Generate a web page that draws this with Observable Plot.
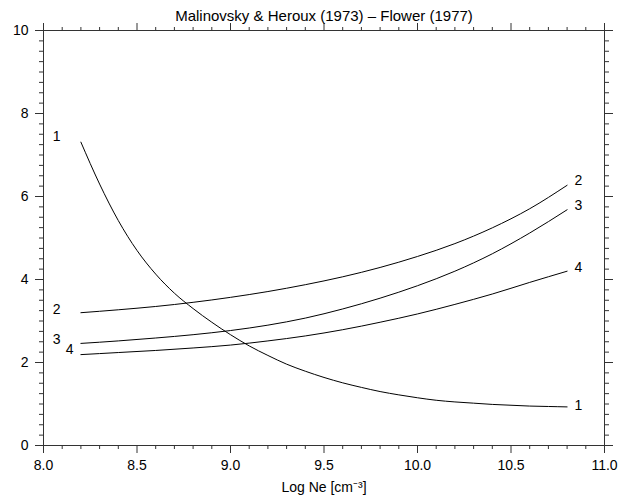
<!DOCTYPE html>
<html>
<head>
<meta charset="utf-8">
<script src="https://cdn.jsdelivr.net/npm/d3@7"></script>
<script src="https://cdn.jsdelivr.net/npm/@observablehq/plot@0.6"></script>
<style>
  html, body { margin: 0; padding: 0; background: #fff; }
</style>
</head>
<body>
<div id="chart"></div>
<script>
const title = "Malinovsky & Heroux (1973) \u2013 Flower (1977)";
const xLabel = "Log Ne [cm\u207B\u00B3]";

// Curve 1 (sampled every 0.1)
const x1 = [8.2, 8.3, 8.4, 8.5, 8.6, 8.7, 8.8, 8.9, 9.0, 9.1, 9.2, 9.3, 9.4, 9.5, 9.6, 9.7, 9.8, 9.9, 10.0, 10.1, 10.2, 10.3, 10.4, 10.5, 10.6, 10.7, 10.8];
const curve1 = [7.31, 6.30, 5.42, 4.70, 4.13, 3.67, 3.30, 2.97, 2.67, 2.40, 2.17, 1.96, 1.79, 1.64, 1.51, 1.40, 1.30, 1.22, 1.15, 1.09, 1.05, 1.02, 0.99, 0.97, 0.95, 0.94, 0.93];

// Curves 2-4 (sampled every 0.2)
const x234 = [8.2, 8.4, 8.6, 8.8, 9.0, 9.2, 9.4, 9.6, 9.8, 10.0, 10.2, 10.4, 10.6, 10.8];
const curve2 = [3.20, 3.27, 3.35, 3.45, 3.57, 3.71, 3.875, 4.065, 4.29, 4.555, 4.865, 5.245, 5.705, 6.27];
const curve3 = [2.46, 2.52, 2.59, 2.67, 2.77, 2.90, 3.07, 3.29, 3.55, 3.85, 4.20, 4.62, 5.12, 5.68];
const curve4 = [2.19, 2.24, 2.29, 2.35, 2.42, 2.52, 2.64, 2.79, 2.97, 3.17, 3.40, 3.65, 3.93, 4.20];

// Curve labels
const labelText = ["1", "2", "3", "4", "2", "3", "4", "1"];
const labelX = [8.07, 8.07, 8.07, 8.14, 10.86, 10.86, 10.86, 10.86];
const labelY = [7.45, 3.28, 2.55, 2.31, 6.38, 5.78, 4.28, 0.97];

const xMajor = [8.0, 8.5, 9.0, 9.5, 10.0, 10.5, 11.0];
const xMinor = d3.range(80, 111, 1).map(d => d / 10).filter(d => !xMajor.includes(d));
const yMajor = [0, 2, 4, 6, 8, 10];
const yMinor = d3.range(0, 41, 1).map(d => d / 4).filter(d => !yMajor.includes(d));

const rows = [];
x1.forEach((x, i) => rows.push({series: "1", x, y: curve1[i]}));
[["2", curve2], ["3", curve3], ["4", curve4]].forEach(([s, arr]) => {
  x234.forEach((x, i) => rows.push({series: s, x, y: arr[i]}));
});
const labels = labelText.map((t, i) => ({t, x: labelX[i], y: labelY[i]}));

const blank = () => "";

const chart = Plot.plot({
  width: 629,
  height: 495,
  marginLeft: 43,
  marginRight: 25,
  marginTop: 30,
  marginBottom: 50,
  style: {fontFamily: "Liberation Sans, Arial, sans-serif", fontSize: "14px", background: "#fff", color: "#000"},
  x: {domain: [8, 11]},
  y: {domain: [0, 10]},
  marks: [
    Plot.frame({stroke: "#333"}),
    Plot.axisX(xMajor, {anchor: "bottom", tickSize: 8, tickPadding: 7, tickFormat: d => d.toFixed(1), label: null, stroke: "#333", fontSize: 14}),
    Plot.axisX(xMinor, {anchor: "bottom", tickSize: 4, tickFormat: blank, label: null, stroke: "#333"}),
    Plot.axisX(xMajor, {anchor: "top", tickSize: 8, tickFormat: blank, label: null, stroke: "#333"}),
    Plot.axisX(xMinor, {anchor: "top", tickSize: 4, tickFormat: blank, label: null, stroke: "#333"}),
    Plot.axisY(yMajor, {anchor: "left", tickSize: 8, tickPadding: 7, tickFormat: d => String(d), label: null, stroke: "#333", fontSize: 14}),
    Plot.axisY(yMinor, {anchor: "left", tickSize: 4, tickFormat: blank, label: null, stroke: "#333"}),
    Plot.axisY(yMajor, {anchor: "right", tickSize: 8, tickFormat: blank, label: null, stroke: "#333"}),
    Plot.axisY(yMinor, {anchor: "right", tickSize: 4, tickFormat: blank, label: null, stroke: "#333"}),
    Plot.line(rows, {x: "x", y: "y", z: "series", stroke: "#000", strokeWidth: 1, curve: "monotone-x"}),
    Plot.text(labels, {x: "x", y: "y", text: "t", fill: "#000", fontSize: 14}),
    Plot.text([title], {frameAnchor: "top", dy: -20, fontSize: 15, fill: "#000"}),
    Plot.text([xLabel], {frameAnchor: "bottom", dy: 46, fontSize: 14, fill: "#000"})
  ]
});
document.getElementById("chart").appendChild(chart);
</script>
</body>
</html>
